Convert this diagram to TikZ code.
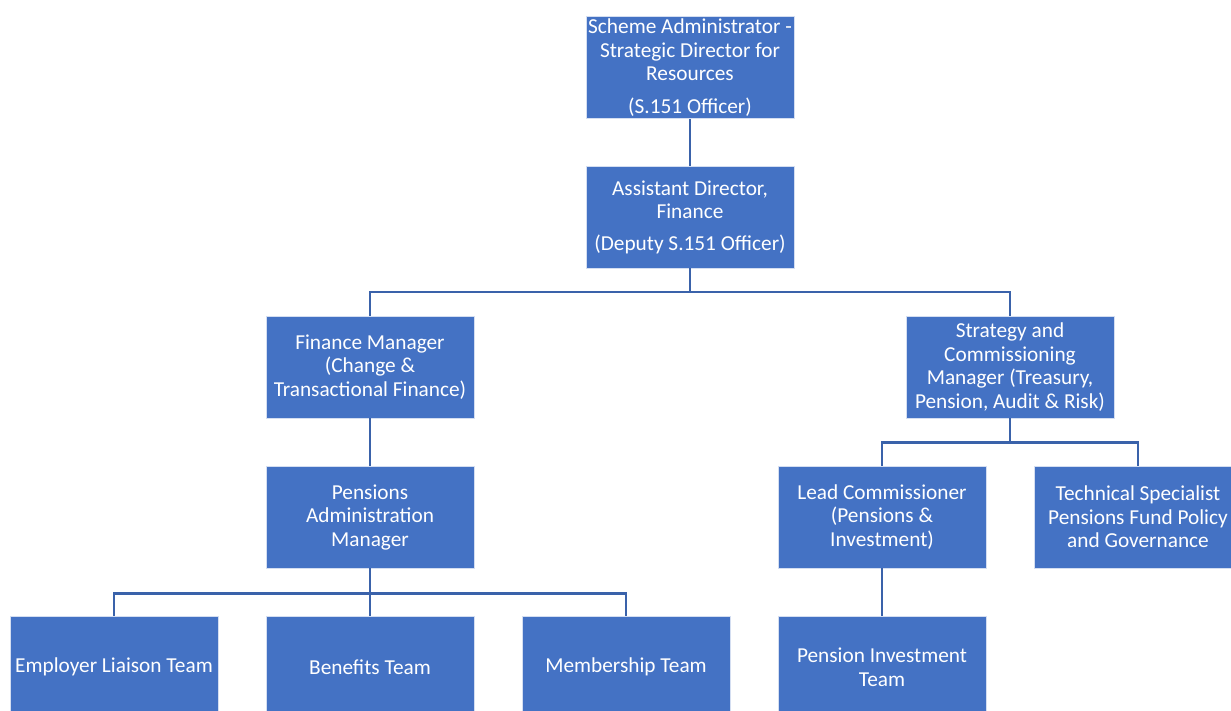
\documentclass[tikz,border=0pt]{standalone}
\usepackage{fontspec}
\setmainfont{Carlito}
\definecolor{boxblue}{HTML}{4472C4}
\definecolor{boxedge}{HTML}{D4DEF1}
\definecolor{linkblue}{HTML}{3A62AA}
\begin{document}
\begin{tikzpicture}[x=1pt,y=-1pt,
  orgbox/.style={rectangle, fill=boxblue, draw=boxedge, line width=0.8pt,
    minimum width=208pt, minimum height=102pt, inner sep=1pt, align=center,
    text=white, font=\fontsize{21.3}{23.5}\selectfont},
  link/.style={draw=linkblue, line width=2.2pt}]
\useasboundingbox (0,0) rectangle (1231,711);
\clip (0,0) rectangle (1231,711);
\node[orgbox] (sa) at (690,67.5) {Scheme Administrator -\\Strategic Director for\\Resources\\[9pt](S.151 Officer)};
\node[orgbox] (ad) at (690,217) {Assistant Director,\\Finance\\[8pt](Deputy S.151 Officer)};
\node[orgbox] (fm) at (370,367) {Finance Manager\\(Change \&\\Transactional Finance)};
\node[orgbox] (sc) at (1010,367) {Strategy and\\Commissioning\\Manager (Treasury,\\Pension, Audit \& Risk)};
\node[orgbox] (pam) at (370,517) {Pensions\\Administration\\Manager};
\node[orgbox] (lc) at (882,517) {Lead Commissioner\\(Pensions \&\\Investment)};
\node[orgbox] (ts) at (1138,517) {Technical Specialist\\Pensions Fund Policy\\and Governance};
\node[orgbox] (el) at (114,667) {Employer Liaison Team};
\node[orgbox] (bt) at (370,667) {Benefits Team};
\node[orgbox] (mt) at (626,667) {Membership Team};
\node[orgbox] (pit) at (882,667) {Pension Investment\\Team};
\draw[link] (sa.south) -- (ad.north);
\draw[link] (ad.south) -- ++(0,24) -| (fm.north);
\draw[link] (ad.south) -- ++(0,24) -| (sc.north);
\draw[link] (fm.south) -- (pam.north);
\draw[link] (pam.south) -- ++(0,25) -| (el.north);
\draw[link] (pam.south) -- ++(0,25) -| (bt.north);
\draw[link] (pam.south) -- ++(0,25) -| (mt.north);
\draw[link] (sc.south) -- ++(0,24) -| (lc.north);
\draw[link] (sc.south) -- ++(0,24) -| (ts.north);
\draw[link] (lc.south) -- (pit.north);
\end{tikzpicture}
\end{document}
